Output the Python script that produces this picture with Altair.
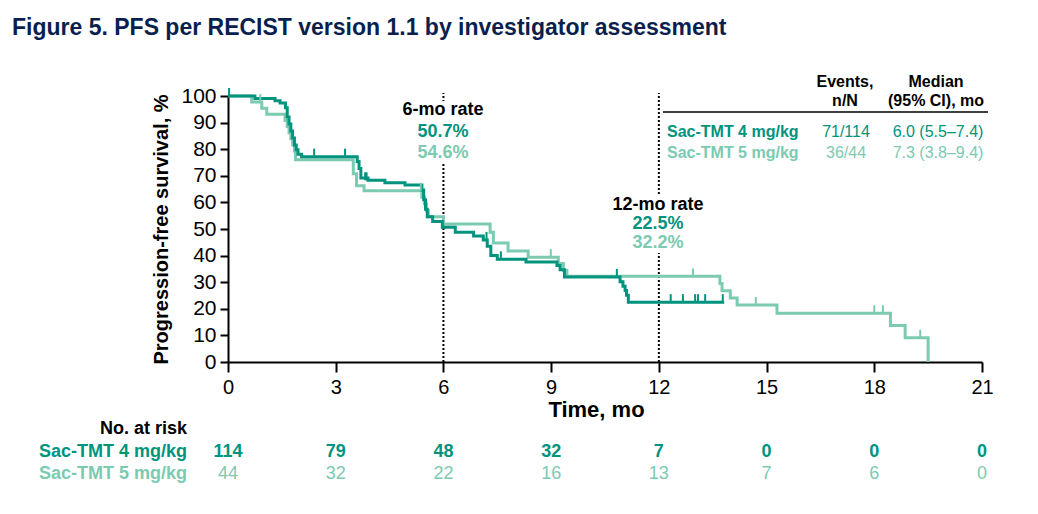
import altair as alt
import pandas as pd

FONT = "Liberation Sans"
arms = ["Sac-TMT 4 mg/kg", "Sac-TMT 5 mg/kg"]
colors = ["#00937e", "#7ccab1"]
navy = "#0b1f4f"

# Kaplan-Meier step points (time in months, PFS %)
t4 = [0, 0.75, 1.31, 1.45, 1.6, 1.65, 1.7, 1.75, 1.8, 1.85, 1.9, 1.95, 2.05, 3.6, 3.65, 3.7,
      3.9, 4.37, 4.93, 5.4, 5.45, 5.5, 5.55, 5.7, 5.97, 6.33, 6.84, 7.11, 7.22, 7.32, 7.5, 8.3,
      9.16, 9.25, 9.37, 10.92, 11.0, 11.06, 11.1, 11.15, 13.82]
s4 = [100, 99.1, 98.2, 97.4, 95.6, 92.1, 89.5, 86.8, 84.2, 81.6, 79.8, 78.1, 77.2, 75.4, 72.7, 69.2,
      68.3, 67.4, 66.5, 64.7, 61.0, 57.4, 54.6, 52.8, 50.7, 48.8, 47.4, 45.9, 43.5, 40.0, 38.6, 37.6,
      36.3, 34.7, 32.0, 30.2, 28.5, 26.9, 25.1, 22.5, 22.5]
t5 = [0, 0.66, 0.94, 1.08, 1.59, 1.65, 1.7, 1.75, 1.8, 1.85, 1.88, 3.49, 3.58, 3.79, 5.4, 5.47,
      5.53, 5.58, 6.0, 7.3, 7.39, 7.8, 8.36, 9.2, 9.34, 9.44, 13.7, 13.76, 13.99, 14.18, 15.29,
      18.45, 18.86, 19.5]
s5 = [100, 97.7, 95.4, 93.1, 90.8, 88.5, 86.2, 83.9, 81.6, 79.3, 76.0, 70.8, 66.3, 64.4, 61.9, 59.5,
      57.0, 54.6, 51.9, 48.8, 44.7, 41.7, 39.4, 37.0, 34.5, 32.2, 29.5, 26.8, 24.1, 21.4, 18.3,
      13.7, 9.1, 0]

# censored observations
c4t = [0.03, 2.4, 3.26, 3.82, 3.86, 7.2, 7.6, 10.83, 12.33, 12.67, 13.01, 13.09, 13.29, 13.78]
c4s = [100, 77.2, 77.2, 68.3, 68.3, 45.9, 38.6, 32.0, 22.5, 22.5, 22.5, 22.5, 22.5, 22.5]
c5t = [0.9, 5.37, 8.99, 12.95, 14.7, 18.0, 18.24, 19.28]
c5s = [97.7, 64.4, 39.4, 32.2, 21.4, 18.3, 18.3, 9.1]

# landmark rates
landmarks = [6, 12]
rate6 = ["50.7%", "54.6%"]
rate12 = ["22.5%", "32.2%"]

# summary table
events = ["71/114", "36/44"]
medians = ["6.0 (5.5\u20137.4)", "7.3 (3.8\u20139.4)"]

# number at risk
risk_t = [0, 3, 6, 9, 12, 15, 18, 21]
risk4 = [114, 79, 48, 32, 7, 0, 0, 0]
risk5 = [44, 32, 22, 16, 13, 7, 6, 0]

W, H = 754, 266

xscale = alt.Scale(domain=[0, 21], nice=False, zero=False)
yscale = alt.Scale(domain=[0, 100], nice=False)
xaxis = alt.Axis(values=list(range(0, 22, 3)), title="Time, mo", grid=False,
                 domainColor="black", domainWidth=2, tickColor="black", tickWidth=2, tickSize=10,
                 labelFont=FONT, labelFontSize=20, labelColor="black", labelPadding=5,
                 titleFont=FONT, titleFontSize=22, titleFontWeight="bold", titleColor="black",
                 titlePadding=2, titleX=368, labelFlush=False)
yaxis = alt.Axis(values=list(range(0, 101, 10)), title="Progression-free survival, %", grid=False,
                 domainColor="black", domainWidth=2, tickColor="black", tickWidth=2, tickSize=8,
                 labelFont=FONT, labelFontSize=21, labelColor="black", labelPadding=4,
                 titleFont=FONT, titleFontSize=20, titleFontWeight="bold", titleColor="black",
                 titlePadding=9, labelFlush=False)


def X():
    return alt.X("t:Q", scale=xscale, axis=xaxis)


def Y():
    return alt.Y("s:Q", scale=yscale, axis=yaxis)


def curve(t, s, color):
    df = pd.DataFrame({"t": t, "s": s})
    return alt.Chart(df).mark_line(interpolate="step-after", strokeWidth=3, color=color,
                                   strokeJoin="miter", strokeCap="butt").encode(x=X(), y=Y())


def censors(t, s, color):
    df = pd.DataFrame({"t": t, "s": s})
    return alt.Chart(df).mark_point(shape="M0,0L0,-1", size=256, filled=False, stroke=color,
                                    strokeWidth=2, opacity=1).encode(x=X(), y=Y())


def txt(text, x, y, color="black", size=15, bold=False, align="center"):
    return alt.Chart(pd.DataFrame({"label": [text]})).mark_text(
        align=align, baseline="middle", font=FONT, fontSize=size,
        fontWeight="bold" if bold else "normal", color=color
    ).encode(x=alt.value(x), y=alt.value(y), text="label:N")


# dotted landmark lines
land_df = pd.DataFrame({"t": landmarks, "s": [0, 0], "s2": [101.1, 101.1]})
land = alt.Chart(land_df).mark_rule(color="black", strokeWidth=2, strokeDash=[2, 2]).encode(
    x=X(), y=Y(), y2="s2:Q")

# white boxes behind the landmark labels
boxes = [
    alt.Chart(pd.DataFrame({"a": [0]})).mark_rect(color="white").encode(
        x=alt.value(203), x2=alt.value(228), y=alt.value(5), y2=alt.value(67)),
    alt.Chart(pd.DataFrame({"a": [0]})).mark_rect(color="white").encode(
        x=alt.value(418), x2=alt.value(443), y=alt.value(100), y2=alt.value(157)),
]

layers = [land] + boxes + [
    curve(t5, s5, colors[1]),
    curve(t4, s4, colors[0]),
    censors(c5t, c5s, colors[1]),
    censors(c4t, c4s, colors[0]),
]

# landmark annotations
layers += [
    txt("6-mo rate", 215, 14, size=18, bold=True),
    txt(rate6[0], 215, 36, colors[0], 18, True),
    txt(rate6[1], 215, 57, colors[1], 18, True),
    txt("12-mo rate", 430, 109, size=18, bold=True),
    txt(rate12[0], 430, 128, colors[0], 18, True),
    txt(rate12[1], 430, 147, colors[1], 18, True),
]

# summary table
layers += [
    txt("Events,", 617, -14, size=16, bold=True),
    txt("n/N", 617, 5, size=16, bold=True),
    txt("Median", 708, -14, size=16, bold=True),
    txt("(95% CI), mo", 708, 5, size=16, bold=True),
    alt.Chart(pd.DataFrame({"a": [0]})).mark_rule(color="black", strokeWidth=1.5).encode(
        x=alt.value(435), x2=alt.value(760), y=alt.value(16)),
]
for i, ypix in enumerate([36, 57]):
    layers += [
        txt(arms[i], 439, ypix, colors[i], 16, True, "left"),
        txt(events[i], 618, ypix, colors[i], 16, False),
        txt(medians[i], 710, ypix, colors[i], 16, False),
    ]

# number at risk table
layers += [
    txt("No. at risk", -41, 333, size=18, bold=True, align="right"),
    txt(arms[0], -41, 356, colors[0], 18, True, "right"),
    txt(arms[1], -41, 378, colors[1], 18, True, "right"),
]
for vals, ypix, col, bold in [(risk4, 356, colors[0], "bold"), (risk5, 378, colors[1], "normal")]:
    rdf = pd.DataFrame({"t": risk_t, "n": [str(v) for v in vals]})
    layers.append(
        alt.Chart(rdf).mark_text(align="center", baseline="middle", font=FONT, fontSize=18,
                                 fontWeight=bold, color=col).encode(
            x=X(), y=alt.value(ypix), text="n:N"))

# figure title
layers.append(txt("Figure 5. PFS per RECIST version 1.1 by investigator assessment",
                  -216, -68, navy, 23, True, "left"))

chart = alt.layer(*layers).properties(
    width=W, height=H,
    autosize=alt.AutoSizeParams(type="none"),
    padding={"left": 220, "top": 88, "right": 48, "bottom": 144},
    background="white",
).configure_view(stroke=None)

chart.save("out.html", embed_options={"renderer": "svg", "actions": False})
